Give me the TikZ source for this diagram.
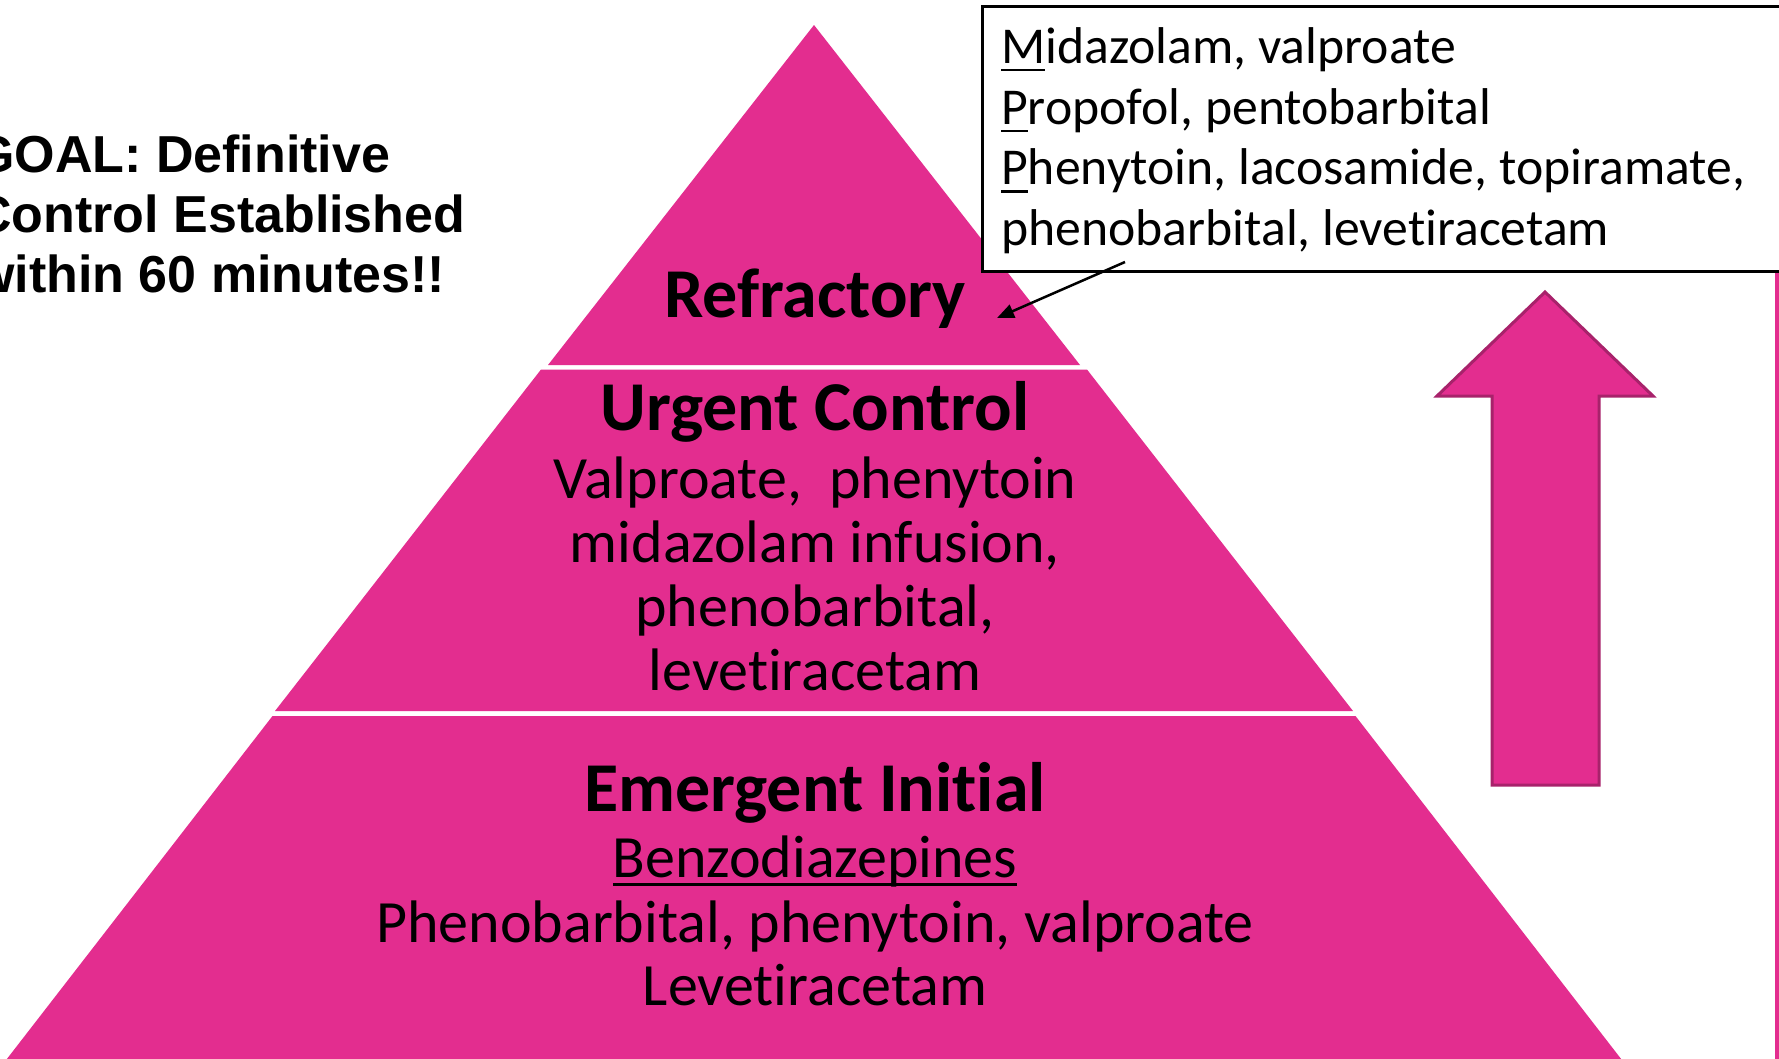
\documentclass[tikz,border=0pt]{standalone}
\usepackage{fontspec}
\setmainfont{Carlito}[Ligatures={NoCommon,NoContextual}]
\newfontfamily\goalfont{Liberation Sans}
\usetikzlibrary{arrows.meta}
\definecolor{pinkfill}{RGB}{227,45,143}
\definecolor{arrowedge}{RGB}{168,34,107}
\newcommand\myul[3]{\setbox0\hbox{#1}\rlap{\rule[-#2]{\wd0}{#3}}\box0}
\begin{document}
\begin{tikzpicture}[x=1pt,y=-1pt,
  tier/.style={fill=pinkfill,draw=none},
  head/.style={font=\fontsize{70}{76}\selectfont\bfseries,anchor=base,inner sep=0pt},
  body/.style={font=\fontsize{60}{64}\selectfont,anchor=base,inner sep=0pt},
  boxtxt/.style={font=\fontsize{51.7}{61}\selectfont,anchor=base west,inner sep=0pt},
  goal/.style={font=\goalfont\bfseries\fontsize{52}{60}\selectfont,anchor=base west,inner sep=0pt},
  callout/.style={draw=black,line width=3pt,fill=white,inner sep=0pt}]
\useasboundingbox (0,0) rectangle (1779,1058);
\fill[white] (0,0) rectangle (1779,1058);

% pyramid tiers
\fill[tier] (814,25) -- (1080,365) -- (548,365) -- cycle;
\fill[tier] (541,369.5) -- (1087,369.5) -- (1353,711) -- (275,711) -- cycle;
\fill[tier] (272.5,716) -- (1355.5,716) -- (1625,1064) -- (3,1064) -- cycle;

% right pink line
\draw[pinkfill,line width=4pt] (1777,271) -- (1777,1060);

% block arrow
\draw[fill=pinkfill,draw=arrowedge,line width=3pt,line join=miter]
  (1545,292) -- (1653,396) -- (1599,396) -- (1599,785) -- (1492,785)
  -- (1492,396) -- (1437,396) -- cycle;

% GOAL text
\node[goal] (g1) at (-26,172.7) {GOAL: Definitive};
\node[goal] (g2) at (-26,232.7) {Control Established};
\node[goal] (g3) at (-26,292.7) {within 60 minutes!!};

% callout box
\node[callout,minimum width=830pt,minimum height=265pt,anchor=north west] (mpp) at (981,5) {};
\node[boxtxt] (b1) at (1001,63) {\myul{M}{8pt}{2.5pt}idazolam, valproate};
\node[boxtxt] (b2) at (1001,124) {\myul{P}{8pt}{2.5pt}ropofol, pentobarbital};
\node[boxtxt] (b3) at (1001,184.5) {\myul{P}{8pt}{2.5pt}henytoin, lacosamide, topiramate,};
\node[boxtxt] (b4) at (1001,245) {phenobarbital, levetiracetam};

% tier texts
\node[head] (ref) at (815,317) {Refractory};
\node[head] (urg) at (815,430) {Urgent Control};
\node[body] (u1) at (815,498) {Valproate,\ \ phenytoin};
\node[body] (u2) at (815,562) {midazolam infusion,};
\node[body] (u3) at (815,626) {phenobarbital,};
\node[body] (u4) at (815,690) {levetiracetam};
\node[head] (eme) at (815,811) {Emergent Initial};
\node[body] (e1) at (815,877) {\myul{Benzodiazepines}{9pt}{3pt}};
\node[body] (e2) at (815,942) {Phenobarbital, phenytoin, valproate};
\node[body] (e3) at (815,1005) {Levetiracetam};

% pointer from box to Refractory
\coordinate (pstart) at (1125,262);
\coordinate (ptip) at (997,318);
\draw[line width=2.5pt,-{Triangle[length=17pt,width=14pt]}] (pstart) -- (ptip);
\end{tikzpicture}
\end{document}
